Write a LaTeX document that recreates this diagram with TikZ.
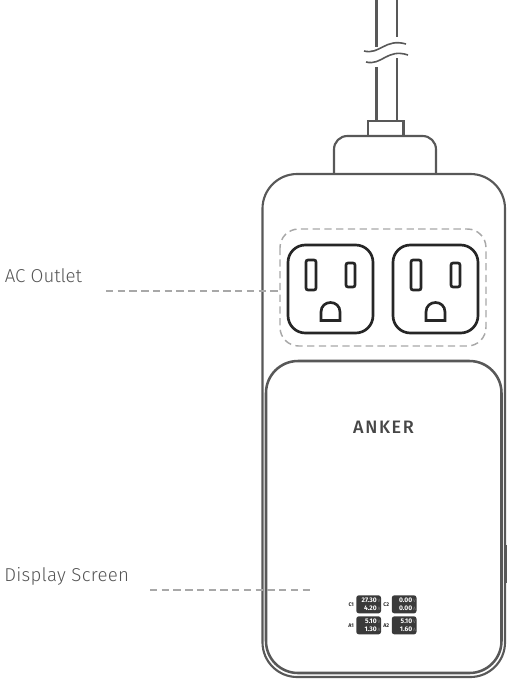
\documentclass[tikz,border=0pt]{standalone}
\usepackage{fontspec}
\setmainfont{Fira Sans}
\newfontfamily\capfont{Fira Sans Light}
\newfontfamily\logofont{Fira Sans Medium}
\definecolor{ln}{HTML}{585858}
\definecolor{blk}{HTML}{262626}
\definecolor{dsh}{HTML}{A8A8A8}
\definecolor{scr}{HTML}{3A3A3A}
\definecolor{lbl}{HTML}{555555}
\tikzset{
  x=0.75pt,y=-0.75pt,
  part/.style={draw=ln,line width=1.6pt},
  socket/.style={draw=blk,line width=2pt,rounded corners=1.5pt},
  dashline/.style={draw=dsh,line width=1.1pt,dash pattern=on 5.5pt off 3.3pt},
  caption/.style={anchor=base west,inner sep=0pt,text=lbl,font=\capfont\fontsize{14pt}{16pt}\selectfont},
  screen/.style={draw=none,fill=scr,rounded corners=2pt,anchor=north west,minimum width=18.6pt,minimum height=13.6pt,inner sep=0pt},
  val/.style={anchor=base east,inner sep=0pt,text=white,font=\fontsize{5pt}{5pt}\selectfont\bfseries},
  unit/.style={anchor=base west,inner sep=0pt,text=gray,font=\fontsize{3.6pt}{4pt}\selectfont},
  tag/.style={anchor=base east,inner sep=0pt,text=blk,font=\fontsize{4pt}{4pt}\selectfont\bfseries}
}
\newcommand{\outletshape}[1]{%
  \begin{scope}[shift={(#1,245)}]
    \draw[socket,rounded corners=13pt] (0,0) rectangle (85,88);
    \draw[socket] (18,15) rectangle (28,45);
    \draw[socket] (58,18) rectangle (67,42);
    \draw[socket,rounded corners=0pt] (33,75.5) -- (33,67) .. controls (33,61) and (37.5,57.5) .. (42.5,57.5) .. controls (47.5,57.5) and (52,61) .. (52,67) -- (52,75.5) -- cycle;
  \end{scope}}
\newcommand{\readout}[6]{%
  \node[screen] (#1) at (#2,#3) {};
  \node[tag] at (#2-2,#3+11) {#4};
  \node[val] at (#2+21,#3+7.4) {#5};
  \node[val] at (#2+21,#3+15.6) {#6};
  \node[unit] at (#2+21.3,#3+7.4) {V};
  \node[unit] at (#2+21.3,#3+15.6) {A};}
\begin{document}
\begin{tikzpicture}
\useasboundingbox (0,0) rectangle (528,690);
% cord
\draw[part] (376.5,0) -- (376.5,47);
\draw[part] (397,0) -- (397,37);
\draw[part] (376.5,67) -- (376.5,121);
\draw[part] (397,58) -- (397,121);
\draw[part,line width=1.2pt] (364,51) .. controls (380,55) and (385,38) .. (406,44);
\draw[part,line width=1.2pt] (366,62) .. controls (382,66) and (387,48) .. (408,55);
% plug
\draw[part,rounded corners=10pt] (334,174) -- (334,136) -- (436,136) -- (436,174);
\draw[part] (368,136) rectangle (403.5,121);
% body
\draw[part,rounded corners=26pt] (262.5,174) rectangle (505,677);
\draw[part,line width=1.9pt,rounded corners=24pt] (266,361) rectangle (501.5,673);
\draw[ln,line width=2pt] (505.5,545) -- (505.5,583);
% outlets
\outletshape{288}
\outletshape{393}
\draw[dashline,rounded corners=14pt] (280,229) rectangle (486,346);
% logo
\node[inner sep=0pt,text=blk!85!white] (logo) at (383.5,427) {\logofont\fontsize{13.5pt}{14pt}\selectfont\addfontfeatures{LetterSpace=9}ANKER};
% screens
\readout{c1}{356}{595}{C1}{27.30}{4.20}
\readout{c2}{391.5}{595}{C2}{0.00}{0.00}
\readout{a1}{356}{616}{A1}{5.10}{1.30}
\readout{a2}{391.5}{616}{A2}{5.10}{1.60}
% captions
\node[caption] (ac) at (4.5,282) {AC Outlet};
\node[caption] (ds) at (4,581) {\addfontfeatures{LetterSpace=1.5}Display Screen};
\coordinate (acend) at (280,291);
\coordinate (acstart) at (106,291);
\coordinate (dsstart) at (150,590);
\coordinate (dsend) at (313,590);
\draw[dashline] (acstart) -- (acend);
\draw[dashline] (dsstart) -- (dsend);
\end{tikzpicture}
\end{document}
